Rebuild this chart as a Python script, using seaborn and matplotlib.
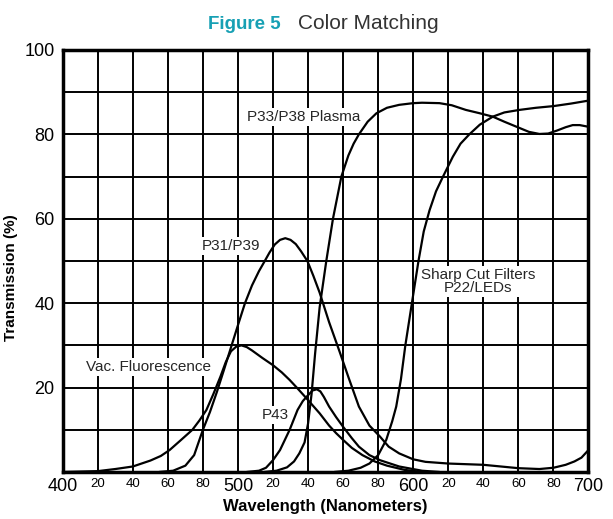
import numpy as np
import pandas as pd
import seaborn as sns
import matplotlib.pyplot as plt

# curves (wavelength nm, transmission %)
vac_nm = [400, 420, 430, 440, 450, 456, 461, 467, 474, 478, 482, 486, 490, 493, 496, 499,
          502, 505, 508, 511, 514, 520, 525, 529.5, 534, 539, 546.6, 552, 556, 560, 565,
          571, 578, 585, 595, 605]
vac_t = [0, 0.2, 0.7, 1.3, 2.7, 3.8, 5.2, 7.4, 10, 12.2, 14.7, 18.5, 22.6, 26, 28.6, 29.7,
         30, 29.6, 28.8, 27.9, 27, 25.3, 23.6, 21.8, 19.8, 17.5, 13.9, 11, 9.2, 7.6, 5.7,
         4, 2.5, 1.5, 0.5, 0]

p31_nm = [455, 463, 470, 475, 480, 484, 488, 492, 496, 500, 504, 508, 512, 515.3, 518, 521,
          524, 527, 530, 533, 536, 539.6, 543, 546.6, 552, 558, 563, 569, 575, 581, 586,
          592, 600, 607, 620, 640, 660, 672, 680, 687, 692, 696, 700]
p31_t = [0, 0.3, 1.5, 4, 10, 14.2, 19, 24.2, 29.5, 34.8, 40, 44.2, 47.6, 50, 52, 53.9,
         55, 55.4, 55, 54, 52.3, 50, 46.5, 42.5, 35.5, 28.5, 22.5, 15.5, 11, 8.4, 6,
         4.4, 3, 2.4, 2, 1.7, 0.9, 0.7, 1, 1.7, 2.5, 3.4, 5.2]

p43_nm = [505, 512, 516, 520, 524, 529.5, 534, 537, 540, 542.5, 545, 547, 549, 552, 556,
          560, 565, 569, 575, 581, 592, 605, 615]
p43_t = [0, 0.3, 1, 2.8, 5.2, 10, 14.7, 16.8, 18.2, 19.3, 19.6, 19.1, 17.8, 15.5, 13,
         10.7, 8, 6, 4, 2.8, 1.3, 0.3, 0]

plasma_nm = [515, 522, 528, 532, 535, 538, 540, 542, 544, 546.6, 550.4, 554.2, 559, 563, 566,
             569, 574, 579, 585, 592, 600, 605, 615, 622, 630, 638, 645.4, 652, 659, 666,
             672, 677, 682, 687, 691, 695, 700]
plasma_t = [0, 0.3, 1.1, 2.5, 4.4, 7, 11.5, 18.5, 28, 39, 50, 60, 70, 75, 77.8,
            80, 83, 85, 86.3, 87, 87.4, 87.5, 87.4, 86.9, 85.8, 85, 84.2, 83, 81.8, 80.6,
            80.1, 80.2, 80.9, 81.7, 82.2, 82.2, 81.8]

sharp_nm = [555, 563, 570, 575, 580, 584.6, 588, 590.3, 593, 595.5, 599.8, 603, 606, 609.3,
            613, 617, 622.6, 627, 632, 638, 645.4, 652, 660.6, 670, 680, 690, 700]
sharp_t = [0, 0.3, 1, 2, 4, 7.6, 12, 15.5, 22, 30, 41.5, 50, 57, 62,
           66.5, 70, 74.7, 77.8, 80, 82.3, 84.2, 85.2, 85.8, 86.3, 86.7, 87.3, 88]

x_ticks = list(range(400, 701, 20))
x_labels = ['400', '20', '40', '60', '80', '500', '20', '40', '60', '80', '600',
            '20', '40', '60', '80', '700']
y_ticks = list(range(0, 101, 10))
y_labels = ['', '', '20', '', '40', '', '60', '', '80', '', '100']

df = pd.concat([
    pd.DataFrame({'nm': vac_nm, 'T': vac_t, 'curve': 'vac'}),
    pd.DataFrame({'nm': p31_nm, 'T': p31_t, 'curve': 'p31'}),
    pd.DataFrame({'nm': p43_nm, 'T': p43_t, 'curve': 'p43'}),
    pd.DataFrame({'nm': plasma_nm, 'T': plasma_t, 'curve': 'plasma'}),
    pd.DataFrame({'nm': sharp_nm, 'T': sharp_t, 'curve': 'sharp'}),
])

sns.set_theme(style="white")
plt.rcParams['font.family'] = ['Liberation Sans', 'DejaVu Sans']

fig = plt.figure(figsize=(6.13, 5.19), dpi=100)
ax = fig.add_axes([0.1023, 0.0906, 0.8577, 0.8131])

sns.lineplot(data=df, x='nm', y='T', units='curve', estimator=None, sort=False,
             color='black', linewidth=1.6, ax=ax, zorder=3)

ax.set_xlim(400, 700)
ax.set_ylim(0, 100)
ax.set_xticks(x_ticks)
ax.set_xticklabels(x_labels)
ax.set_yticks(y_ticks)
ax.set_yticklabels(y_labels, fontsize=13)
for lab, v in zip(ax.get_xticklabels(), x_ticks):
    lab.set_fontsize(13 if v % 100 == 0 else 9.5)
ax.tick_params(axis='both', length=0, colors='black')
ax.tick_params(axis='x', pad=4)
ax.tick_params(axis='y', pad=6)

ax.grid(True, color='black', linewidth=1.4)
ax.set_axisbelow(True)
for s in ax.spines.values():
    s.set_color('black')
    s.set_linewidth(2.5)
    s.set_zorder(4)

ax.set_xlabel('Wavelength (Nanometers)', fontsize=12, fontweight='bold', color='black', labelpad=3)
ax.set_ylabel('Transmission (%)', fontsize=11, fontweight='bold', color='black')
ax.yaxis.set_label_coords(-0.085, 0.46)

box = dict(facecolor='white', edgecolor='none', pad=1.5)
ax.text(537.4, 84.2, 'P33/P38 Plasma', fontsize=11, ha='center', va='center', bbox=box, zorder=5)
ax.text(496.1, 53.6, 'P31/P39', fontsize=11, ha='center', va='center', bbox=box, zorder=5)
ax.text(448.7, 24.8, 'Vac. Fluorescence', fontsize=11, ha='center', va='center', bbox=box, zorder=5)
ax.text(521.5, 13.5, 'P43', fontsize=11, ha='center', va='center', bbox=box, zorder=5)
ax.text(637.2, 45.2, 'Sharp Cut Filters\nP22/LEDs', fontsize=11, ha='center', va='center',
        linespacing=0.9, bbox=box, zorder=5)

fig.text(281 / 613, 1 - 29.3 / 519, 'Figure 5', fontsize=13.5, fontweight='bold',
         color='#17A0B4', ha='right', va='baseline')
fig.text(298 / 613, 1 - 29.3 / 519, 'Color Matching', fontsize=15,
         color='#333333', ha='left', va='baseline')

fig.savefig('out.png', dpi=100)
